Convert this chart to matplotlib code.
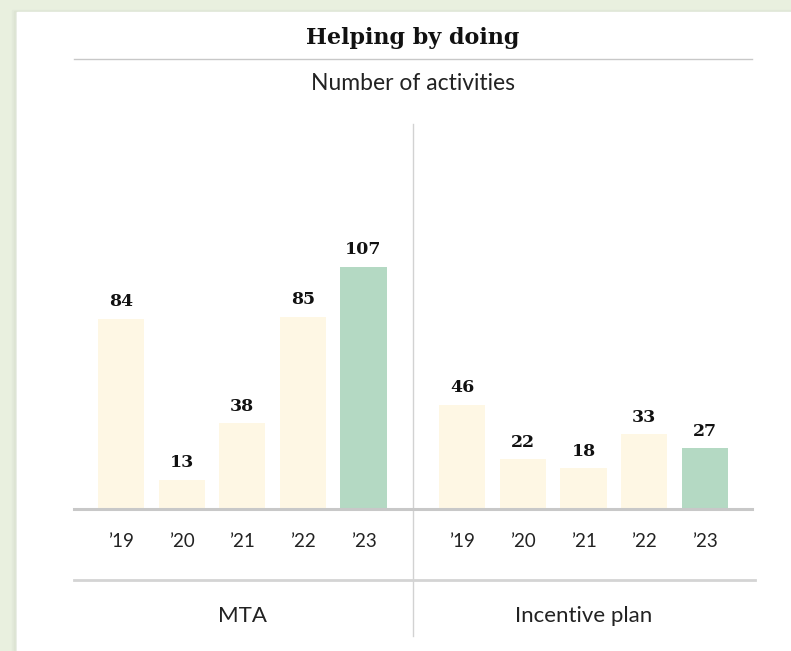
import numpy as np
import matplotlib.pyplot as plt
from matplotlib.patches import Rectangle
from matplotlib.lines import Line2D

years = ["\u201919", "\u201920", "\u201921", "\u201922", "\u201923"]
groups = ["MTA", "Incentive plan"]
mta = [84, 13, 38, 85, 107]
incentive = [46, 22, 18, 33, 27]

W, H = 791, 651
CREAM = "#fef7e4"
GREEN = "#b4d9c3"
GRID = "#c8c8c8"
SANS = ["Lato", "DejaVu Sans"]
SERIF = ["DejaVu Serif"]

fig = plt.figure(figsize=(W / 100, H / 100), dpi=100)
fig.patch.set_facecolor("#e9f0df")

# white card with a soft left shadow
for off, c in [(5, "#e3eada"), (3, "#dde4d3"), (1, "#e6ebe0")]:
    fig.add_artist(Rectangle(((17 - off) / W, 0), 1, 1 - (12 - off / 2) / H,
                             transform=fig.transFigure, color=c, zorder=0))
fig.add_artist(Rectangle((17 / W, 0), 1, 1 - 12 / H, transform=fig.transFigure,
                         color="white", zorder=0))

fig.text(413 / W, 1 - 38 / H, "Helping by doing", ha="center", va="center",
         family=SERIF, weight="bold", fontsize=16, color="#111111")
fig.add_artist(Line2D([74 / W, 752 / W], [1 - 59 / H] * 2, color=GRID, lw=1))
fig.text(413 / W, 1 - 84 / H, "Number of activities", ha="center", va="center",
         family=SANS, fontsize=16.5, color="#222222")

ax = fig.add_axes([74 / W, 1 - 509 / H, 678 / W, 385 / H])
ax.set_facecolor("none")

x_mta = np.arange(len(mta))
x_inc = np.arange(len(incentive)) + 5.63
colors = [CREAM] * 4 + [GREEN]

for xs, vals in [(x_mta, mta), (x_inc, incentive)]:
    bars = ax.bar(xs, vals, width=0.76, color=colors, zorder=2)
    ax.bar_label(bars, padding=6, family=SERIF, weight="bold", fontsize=12.5,
                 color="#111111")

ax.set_xlim(-0.776, 10.41)
ax.set_ylim(0, 170)
ax.set_yticks([])
ax.set_xticks(np.concatenate([x_mta, x_inc]), years * 2)
ax.tick_params(axis="x", length=0, pad=17, labelsize=13.5, labelcolor="#222222")
for lab in ax.get_xticklabels():
    lab.set_family(SANS)

for s in ["top", "left", "right"]:
    ax.spines[s].set_visible(False)
ax.spines["bottom"].set_color(GRID)
ax.spines["bottom"].set_linewidth(2.2)

sep = (x_mta[-1] + x_inc[0]) / 2
ax.axvline(sep, ymin=-(636 - 509) / 385, ymax=1, color="#d2d2d2", lw=1,
           clip_on=False)

fig.add_artist(Line2D([74 / W, 755 / W], [1 - 580 / H] * 2, color="#d4d4d4", lw=2))

trans = ax.get_xaxis_transform()
for xs, name in [(x_mta, groups[0]), (x_inc, groups[1])]:
    ax.text(xs.mean(), -(616 - 509) / 385, name, transform=trans, ha="center",
            va="center", family=SANS, fontsize=16, color="#222222")

fig.savefig("out.png", dpi=100)
